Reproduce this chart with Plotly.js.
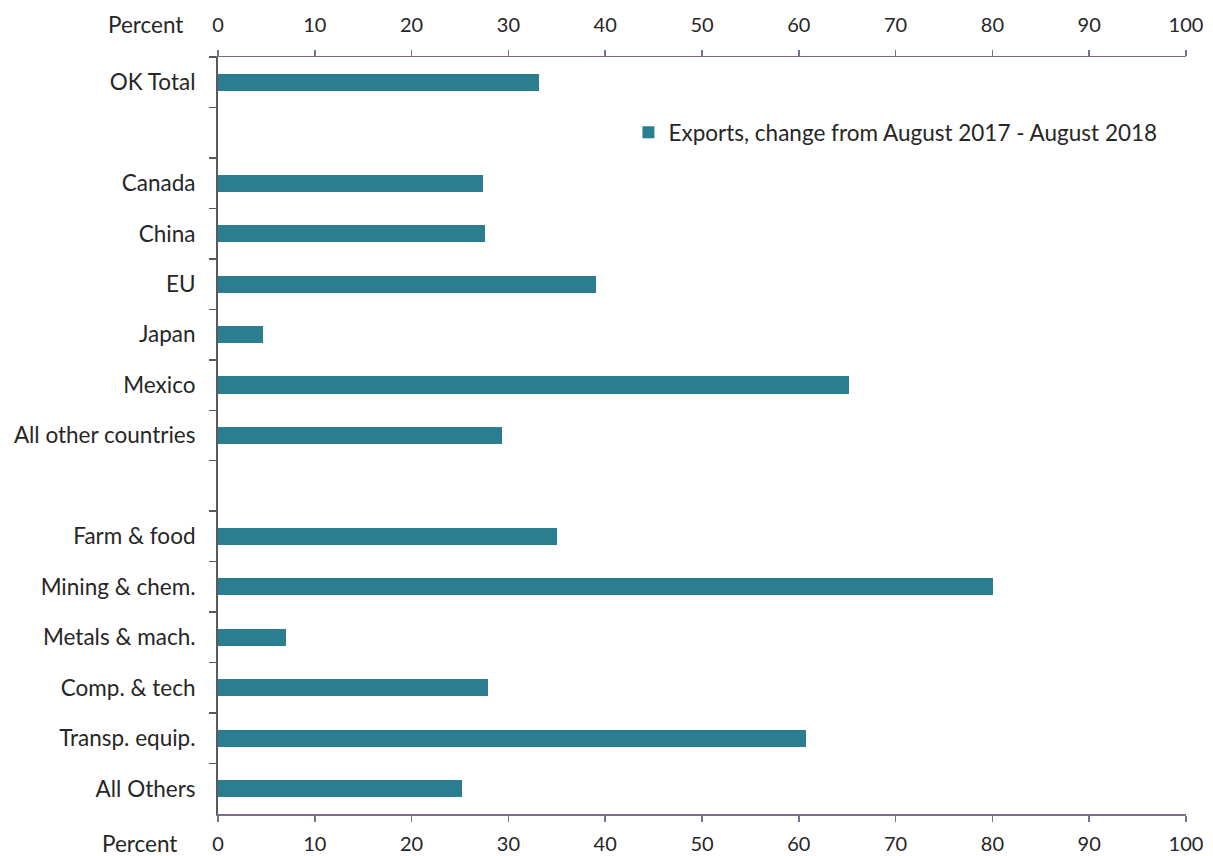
<!DOCTYPE html>
<html>
<head>
<meta charset="utf-8">
<script src="https://cdn.plot.ly/plotly-3.0.1.min.js"></script>
<style>html,body{margin:0;padding:0;background:#fff;}#chart{width:1213px;height:856px;}</style>
</head>
<body>
<div id="chart"></div>
<script>
var categories = ["OK Total", " ", "Canada", "China", "EU", "Japan", "Mexico", "All other countries", "  ",
                  "Farm & food", "Mining & chem.", "Metals & mach.", "Comp. & tech", "Transp. equip.", "All Others"];
var values = [33.2, null, 27.4, 27.6, 39.1, 4.6, 65.2, 29.3, null, 35.0, 80.1, 7.0, 27.9, 60.7, 25.2];
var seriesName = "Exports, change from August 2017 - August 2018";
var xTicks = [0, 10, 20, 30, 40, 50, 60, 70, 80, 90, 100];
var axisLabel = "Percent";

var FONT = "Lato, 'Open Sans', sans-serif";
var TXT = "#262626";
var BAR = "#2b7e90";
var XLINE = "#7d6b8c";

var traces = [
  {
    type: "bar", orientation: "h",
    x: values, y: categories,
    name: seriesName,
    marker: {color: BAR, line: {width: 0}},
    width: 0.34,
    xaxis: "x", yaxis: "y",
    showlegend: true
  },
  {
    type: "scatter", mode: "markers",
    x: [null], y: [categories[0]],
    xaxis: "x2", yaxis: "y",
    showlegend: false, hoverinfo: "skip"
  }
];

var layout = {
  width: 1213, height: 856,
  margin: {l: 218, r: 27, t: 57, b: 42},
  paper_bgcolor: "#ffffff", plot_bgcolor: "#ffffff",
  font: {family: FONT, size: 22, color: TXT},
  bargap: 0,
  xaxis: {
    range: [0, 100], tickvals: xTicks, ticktext: xTicks.map(String),
    showgrid: false, zeroline: false,
    showline: true, linecolor: XLINE, linewidth: 1.5,
    ticks: "outside", ticklen: 6, tickcolor: XLINE, tickwidth: 1.5,
    tickfont: {family: FONT, size: 20, color: TXT},
    ticklabelstandoff: 5,
    side: "bottom", fixedrange: true
  },
  xaxis2: {
    range: [0, 100], tickvals: xTicks, ticktext: xTicks.map(String),
    overlaying: "x", side: "top",
    showgrid: false, zeroline: false,
    showline: true, linecolor: XLINE, linewidth: 1.5,
    ticks: "outside", ticklen: 6, tickcolor: XLINE, tickwidth: 1.5,
    tickfont: {family: FONT, size: 20, color: TXT},
    ticklabelstandoff: 10,
    fixedrange: true
  },
  yaxis: {
    type: "category",
    categoryorder: "array", categoryarray: categories,
    autorange: false, range: [categories.length - 0.5, -0.5],
    showgrid: false, zeroline: false,
    showline: true, linecolor: "#5a5a5a", linewidth: 2,
    ticks: "outside", ticklen: 7, tickcolor: "#5a5a5a", tickwidth: 1.5,
    tickson: "boundaries",
    tickfont: {family: FONT, size: 22.5, color: TXT},
    ticklabelstandoff: 16,
    fixedrange: true
  },
  showlegend: true,
  legend: {
    x: 0.424, y: 0.9, xanchor: "left", yanchor: "middle",
    font: {family: FONT, size: 22.5, color: TXT},
    bgcolor: "rgba(0,0,0,0)",
    itemwidth: 30
  },
  annotations: [
    {text: axisLabel, xref: "paper", yref: "paper", x: -0.034, y: 1, yshift: 33,
     xanchor: "right", yanchor: "middle", showarrow: false,
     font: {family: FONT, size: 22.5, color: TXT}},
    {text: axisLabel, xref: "paper", yref: "paper", x: -0.04, y: 0, yshift: -29,
     xanchor: "right", yanchor: "middle", showarrow: false,
     font: {family: FONT, size: 22.5, color: TXT}}
  ]
};

Plotly.newPlot("chart", traces, layout, {displayModeBar: false, staticPlot: true});
</script>
</body>
</html>
